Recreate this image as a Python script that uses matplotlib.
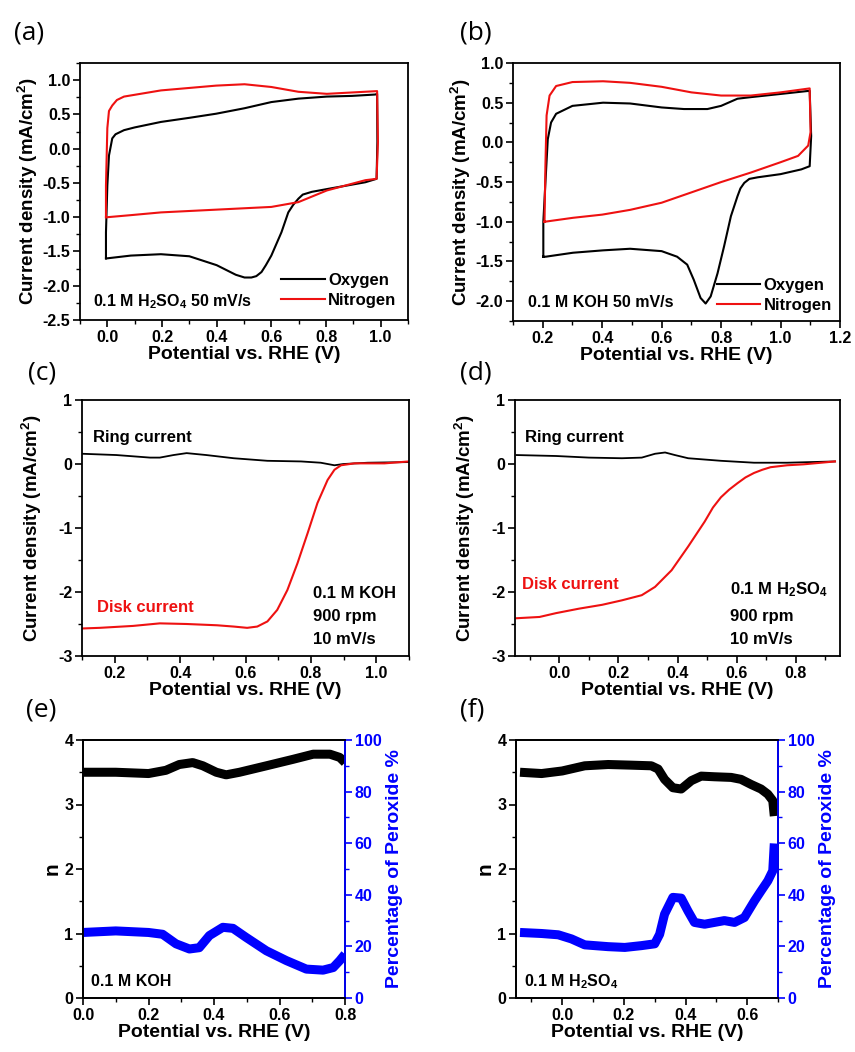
import matplotlib
matplotlib.use('Agg')
import matplotlib.pyplot as plt
from matplotlib.ticker import MultipleLocator

# (a) CV, 0.1 M H2SO4 -- closed loops (potential V, current mA/cm2)
a_o2_v = [-0.005, -0.005, 0.0, 0.006, 0.018, 0.030, 0.061, 0.100, 0.196, 0.300, 0.398, 0.502, 0.600,
          0.699, 0.803, 0.895, 0.980, 0.987, 0.988, 0.985, 0.944, 0.803, 0.748, 0.715, 0.699, 0.680,
          0.662, 0.637, 0.600, 0.580, 0.564, 0.545, 0.527, 0.502, 0.470, 0.400, 0.300, 0.196, 0.086,
          0.0, -0.005]
a_o2_j = [-1.60, -1.22, -0.54, -0.10, 0.15, 0.21, 0.27, 0.31, 0.39, 0.45, 0.51, 0.59, 0.68,
          0.73, 0.76, 0.77, 0.79, 0.80, 0.10, -0.44, -0.49, -0.59, -0.63, -0.67, -0.73, -0.82,
          -0.93, -1.22, -1.56, -1.70, -1.80, -1.86, -1.88, -1.88, -1.84, -1.70, -1.57, -1.54, -1.56,
          -1.60, -1.60]
a_n2_v = [-0.005, -0.005, 0.0, 0.006, 0.018, 0.035, 0.061, 0.196, 0.398, 0.502, 0.600, 0.699, 0.803,
          0.895, 0.987, 0.990, 0.985, 0.944, 0.803, 0.699, 0.600, 0.398, 0.196, 0.086, 0.0, -0.005]
a_n2_j = [-1.00, -0.54, 0.30, 0.55, 0.63, 0.71, 0.76, 0.85, 0.92, 0.94, 0.90, 0.83, 0.80,
          0.82, 0.84, 0.10, -0.44, -0.46, -0.61, -0.78, -0.85, -0.89, -0.93, -0.97, -1.00, -1.00]

# (b) CV, 0.1 M KOH
b_o2_v = [0.202, 0.202, 0.209, 0.217, 0.228, 0.245, 0.300, 0.403, 0.494, 0.600, 0.675, 0.754, 0.800,
          0.855, 0.900, 1.000, 1.098, 1.103, 1.098, 1.070, 1.000, 0.923, 0.895, 0.878, 0.865, 0.855,
          0.833, 0.810, 0.788, 0.765, 0.748, 0.731, 0.708, 0.686, 0.652, 0.600, 0.494, 0.403, 0.302,
          0.210, 0.202]
b_o2_j = [-1.44, -1.00, -0.51, 0.04, 0.25, 0.36, 0.46, 0.50, 0.49, 0.44, 0.42, 0.42, 0.46,
          0.55, 0.57, 0.61, 0.65, 0.08, -0.30, -0.34, -0.40, -0.44, -0.46, -0.51, -0.58, -0.68,
          -0.93, -1.31, -1.65, -1.94, -2.03, -1.96, -1.73, -1.54, -1.44, -1.37, -1.34, -1.36, -1.39,
          -1.44, -1.44]
b_n2_v = [0.206, 0.209, 0.213, 0.223, 0.245, 0.300, 0.403, 0.494, 0.600, 0.700, 0.800, 0.900, 1.000,
          1.098, 1.101, 1.093, 1.059, 1.000, 0.900, 0.800, 0.700, 0.600, 0.494, 0.400, 0.302, 0.206]
b_n2_j = [-1.00, -0.30, 0.34, 0.59, 0.71, 0.76, 0.77, 0.75, 0.70, 0.63, 0.59, 0.59, 0.63,
          0.68, 0.13, -0.04, -0.17, -0.25, -0.38, -0.50, -0.63, -0.76, -0.85, -0.91, -0.95, -1.00]

# (c) RRDE, 0.1 M KOH
c_ring_v = [0.10, 0.205, 0.308, 0.338, 0.38, 0.42, 0.48, 0.564, 0.667, 0.77, 0.83, 0.872, 0.90, 0.974,
            1.10]
c_ring_j = [0.16, 0.14, 0.10, 0.10, 0.14, 0.17, 0.14, 0.09, 0.05, 0.04, 0.02, -0.02, 0.0, 0.02, 0.03]
c_disk_v = [0.10, 0.154, 0.256, 0.338, 0.42, 0.513, 0.564, 0.605, 0.636, 0.667, 0.697, 0.728, 0.759,
            0.79, 0.82, 0.851, 0.872, 0.892, 0.933, 1.025, 1.10]
c_disk_j = [-2.57, -2.56, -2.53, -2.49, -2.50, -2.52, -2.54, -2.56, -2.54, -2.46, -2.28, -1.97, -1.55,
            -1.08, -0.61, -0.25, -0.09, -0.02, 0.01, 0.01, 0.04]

# (d) RRDE, 0.1 M H2SO4
d_ring_v = [-0.145, -0.011, 0.10, 0.212, 0.279, 0.324, 0.358, 0.391, 0.436, 0.547, 0.659, 0.771, 0.933]
d_ring_j = [0.14, 0.125, 0.10, 0.09, 0.10, 0.16, 0.18, 0.14, 0.09, 0.05, 0.02, 0.02, 0.04]
d_disk_v = [-0.145, -0.067, -0.011, 0.067, 0.145, 0.212, 0.279, 0.324, 0.38, 0.436, 0.492, 0.52,
            0.547, 0.575, 0.603, 0.63, 0.659, 0.687, 0.715, 0.771, 0.827, 0.933]
d_disk_j = [-2.41, -2.39, -2.33, -2.26, -2.20, -2.13, -2.05, -1.92, -1.66, -1.29, -0.90, -0.68,
            -0.52, -0.40, -0.30, -0.21, -0.14, -0.09, -0.05, -0.02, -0.005, 0.04]

# (e) electron number and peroxide yield, 0.1 M KOH
e_n_v = [0.0, 0.1, 0.2, 0.253, 0.294, 0.335, 0.366, 0.407, 0.437, 0.478, 0.56, 0.641, 0.703, 0.754,
         0.784, 0.80]
e_n = [3.50, 3.50, 3.48, 3.53, 3.62, 3.65, 3.60, 3.50, 3.46, 3.50, 3.60, 3.70, 3.78, 3.78, 3.73, 3.65]
e_h2o2_v = [0.0, 0.1, 0.2, 0.243, 0.284, 0.325, 0.355, 0.386, 0.427, 0.458, 0.498, 0.56, 0.621,
            0.682, 0.733, 0.764, 0.784, 0.80]
e_h2o2 = [25.4, 26.0, 25.4, 24.7, 21.0, 19.0, 19.5, 24.2, 27.4, 27.0, 23.5, 18.3, 14.5, 11.2, 10.8,
          11.8, 14.5, 17.0]

# (f) electron number and peroxide yield, 0.1 M H2SO4
f_n_v = [-0.137, -0.067, 0.0, 0.073, 0.149, 0.224, 0.289, 0.311, 0.332, 0.359, 0.386, 0.419, 0.451,
         0.494, 0.548, 0.58, 0.613, 0.645, 0.667, 0.683, 0.688]
f_n = [3.50, 3.48, 3.52, 3.60, 3.62, 3.61, 3.60, 3.55, 3.39, 3.26, 3.24, 3.37, 3.44,
       3.43, 3.42, 3.39, 3.31, 3.24, 3.16, 3.06, 2.82]
f_h2o2_v = [-0.137, -0.067, -0.013, 0.030, 0.073, 0.149, 0.203, 0.257, 0.300, 0.316, 0.332, 0.359,
            0.386, 0.408, 0.429, 0.462, 0.494, 0.526, 0.559, 0.591, 0.624, 0.645, 0.667, 0.683, 0.688]
f_h2o2 = [25.4, 25.0, 24.5, 22.9, 20.6, 19.9, 19.6, 20.3, 21.0, 24.7, 32.5, 39.0, 38.7, 33.7, 29.3,
          28.6, 29.3, 30.0, 29.3, 31.2, 37.7, 41.5, 45.4, 49.3, 59.9]

plt.rcParams['font.family'] = ['Liberation Sans', 'DejaVu Sans']
plt.rcParams['font.weight'] = 'bold'
plt.rcParams['axes.labelweight'] = 'bold'
plt.rcParams['mathtext.fontset'] = 'custom'
plt.rcParams['mathtext.rm'] = 'Liberation Sans:bold'
plt.rcParams['mathtext.bf'] = 'Liberation Sans:bold'
plt.rcParams['mathtext.default'] = 'rm'
plt.rcParams['axes.linewidth'] = 1.3

W, H = 855, 1052
fig = plt.figure(figsize=(W / 100, H / 100), dpi=100)

RED = '#ee1111'
BLUE = '#0000ff'
XLAB = 'Potential vs. RHE (V)'
YLAB = 'Current density (mA/cm$^2$)'


def make_ax(left, right, top, bottom):
    return fig.add_axes([left / W, 1 - bottom / H, (right - left) / W, (bottom - top) / H])


def style(ax, xmaj, ymaj):
    ax.xaxis.set_major_locator(MultipleLocator(xmaj))
    ax.xaxis.set_minor_locator(MultipleLocator(xmaj / 2))
    ax.yaxis.set_major_locator(MultipleLocator(ymaj))
    ax.yaxis.set_minor_locator(MultipleLocator(ymaj / 2))
    ax.tick_params(which='major', direction='out', length=5, width=1.2, labelsize=11.5, pad=2)
    ax.tick_params(which='minor', direction='out', length=3, width=1.0)
    for lab in ax.get_xticklabels() + ax.get_yticklabels():
        lab.set_fontweight('bold')
    ax.set_xlabel(XLAB, fontsize=14, labelpad=1)


def panel_label(x, y, s):
    fig.text(x / W, 1 - y / H, s, fontsize=19, fontweight='normal',
             family=['Open Sans', 'DejaVu Sans'], va='center', ha='left')


# ---- (a) ----
ax = make_ax(80, 408, 63, 320)
ax.plot(a_o2_v, a_o2_j, color='black', lw=1.5, label='Oxygen')
ax.plot(a_n2_v, a_n2_j, color=RED, lw=1.5, label='Nitrogen')
ax.set_xlim(-0.1, 1.1)
ax.set_ylim(-2.5, 1.25)
style(ax, 0.2, 0.5)
ax.set_xticks([0.0, 0.2, 0.4, 0.6, 0.8, 1.0])
ax.set_xticklabels(['0.0', '0.2', '0.4', '0.6', '0.8', '1.0'])
ax.set_yticks([1.0, 0.5, 0.0, -0.5, -1.0, -1.5, -2.0, -2.5])
ax.set_yticklabels(['1.0', '0.5', '0.0', '-0.5', '-1.0', '-1.5', '-2.0', '-2.5'])
ax.set_ylabel(YLAB, fontsize=13.5, labelpad=2)
ax.legend(loc='lower right', frameon=False, fontsize=12, handlelength=2.6, handletextpad=0.2,
          labelspacing=0.3, borderaxespad=0.3)
ax.text(0.04, 0.07, '0.1 M H$_2$SO$_4$ 50 mV/s', transform=ax.transAxes, fontsize=11.5,
        fontweight='bold', va='center')
panel_label(14, 33, '(a)')

# ---- (b) ----
ax = make_ax(513, 840, 63, 321)
ax.plot(b_o2_v, b_o2_j, color='black', lw=1.5, label='Oxygen')
ax.plot(b_n2_v, b_n2_j, color=RED, lw=1.5, label='Nitrogen')
ax.set_xlim(0.1, 1.2)
ax.set_ylim(-2.25, 1.0)
style(ax, 0.2, 0.5)
ax.set_xticks([0.2, 0.4, 0.6, 0.8, 1.0, 1.2])
ax.set_xticklabels(['0.2', '0.4', '0.6', '0.8', '1.0', '1.2'])
ax.set_yticks([1.0, 0.5, 0.0, -0.5, -1.0, -1.5, -2.0])
ax.set_yticklabels(['1.0', '0.5', '0.0', '-0.5', '-1.0', '-1.5', '-2.0'])
ax.set_ylabel(YLAB, fontsize=13.5, labelpad=2)
ax.legend(loc='lower right', frameon=False, fontsize=12, handlelength=2.6, handletextpad=0.2,
          labelspacing=0.3, borderaxespad=0.1)
ax.text(0.045, 0.07, '0.1 M KOH 50 mV/s', transform=ax.transAxes, fontsize=11.5,
        fontweight='bold', va='center')
panel_label(460, 33, '(b)')

# ---- (c) ----
ax = make_ax(82, 409, 400, 656)
ax.plot(c_ring_v, c_ring_j, color='black', lw=1.3)
ax.plot(c_disk_v, c_disk_j, color=RED, lw=1.5)
ax.set_xlim(0.1, 1.1)
ax.set_ylim(-3, 1)
style(ax, 0.2, 1)
ax.set_xticks([0.2, 0.4, 0.6, 0.8, 1.0])
ax.set_xticklabels(['0.2', '0.4', '0.6', '0.8', '1.0'])
ax.set_yticks([1, 0, -1, -2, -3])
ax.set_yticklabels(['1', '0', '-1', '-2', '-3'])
ax.set_ylabel(YLAB, fontsize=13.5, labelpad=10)
ax.text(0.035, 0.855, 'Ring current', transform=ax.transAxes, fontsize=12, fontweight='bold',
        va='center')
ax.text(0.045, 0.19, 'Disk current', transform=ax.transAxes, fontsize=12, fontweight='bold',
        color=RED, va='center')
ax.text(0.705, 0.245, '0.1 M KOH', transform=ax.transAxes, fontsize=12, fontweight='bold',
        va='center')
ax.text(0.705, 0.155, '900 rpm', transform=ax.transAxes, fontsize=12, fontweight='bold',
        va='center')
ax.text(0.705, 0.065, '10 mV/s', transform=ax.transAxes, fontsize=12, fontweight='bold',
        va='center')
panel_label(28, 373, '(c)')

# ---- (d) ----
ax = make_ax(515, 840, 400, 656)
ax.plot(d_ring_v, d_ring_j, color='black', lw=1.3)
ax.plot(d_disk_v, d_disk_j, color=RED, lw=1.5)
ax.set_xlim(-0.15, 0.95)
ax.set_ylim(-3, 1)
style(ax, 0.2, 1)
ax.set_xticks([0.0, 0.2, 0.4, 0.6, 0.8])
ax.set_xticklabels(['0.0', '0.2', '0.4', '0.6', '0.8'])
ax.set_yticks([1, 0, -1, -2, -3])
ax.set_yticklabels(['1', '0', '-1', '-2', '-3'])
ax.set_ylabel(YLAB, fontsize=13.5, labelpad=10)
ax.text(0.03, 0.855, 'Ring current', transform=ax.transAxes, fontsize=12, fontweight='bold',
        va='center')
ax.text(0.02, 0.28, 'Disk current', transform=ax.transAxes, fontsize=12, fontweight='bold',
        color=RED, va='center')
ax.text(0.66, 0.26, '0.1 M H$_2$SO$_4$', transform=ax.transAxes, fontsize=12, fontweight='bold',
        va='center')
ax.text(0.66, 0.155, '900 rpm', transform=ax.transAxes, fontsize=12, fontweight='bold',
        va='center')
ax.text(0.66, 0.065, '10 mV/s', transform=ax.transAxes, fontsize=12, fontweight='bold',
        va='center')
panel_label(460, 373, '(d)')


def n_panel(left, right, xlim, xticks, nv, n, pv, p, note, lab, lx):
    ax = make_ax(left, right, 740, 998)
    ax.plot(nv, n, color='black', lw=6.5, solid_capstyle='butt', solid_joinstyle='round')
    ax.set_xlim(*xlim)
    ax.set_ylim(0, 4)
    style(ax, 0.2, 1)
    ax.set_xticks(xticks)
    ax.set_xticklabels(['%.1f' % t for t in xticks])
    ax.set_yticks([0, 1, 2, 3, 4])
    ax.set_yticklabels(['0', '1', '2', '3', '4'])
    ax.set_ylabel('n', fontsize=15, labelpad=2)
    ax.text(0.03, 0.065, note, transform=ax.transAxes, fontsize=11.5, fontweight='bold',
            va='center')
    ax2 = ax.twinx()
    ax2.plot(pv, p, color=BLUE, lw=6.5, solid_capstyle='butt', solid_joinstyle='round')
    ax2.set_ylim(0, 100)
    ax2.yaxis.set_major_locator(MultipleLocator(20))
    ax2.yaxis.set_minor_locator(MultipleLocator(10))
    ax2.tick_params(which='major', direction='out', length=5, width=1.2, labelsize=11.5,
                    colors=BLUE, pad=2)
    ax2.tick_params(which='minor', direction='out', length=3, width=1.0, colors=BLUE)
    for t in ax2.get_yticklabels():
        t.set_fontweight('bold')
    ax2.spines['right'].set_color(BLUE)
    ax2.set_ylabel('Percentage of Peroxide %', fontsize=14, color=BLUE, labelpad=3)
    panel_label(lx, 710, lab)


n_panel(83, 345, (0.0, 0.8), [0.0, 0.2, 0.4, 0.6, 0.8], e_n_v, e_n, e_h2o2_v, e_h2o2,
        '0.1 M KOH', '(e)', 26)
n_panel(516, 778, (-0.15, 0.7), [0.0, 0.2, 0.4, 0.6], f_n_v, f_n, f_h2o2_v, f_h2o2,
        '0.1 M H$_2$SO$_4$', '(f)', 460)

fig.savefig('out.png', dpi=100)
